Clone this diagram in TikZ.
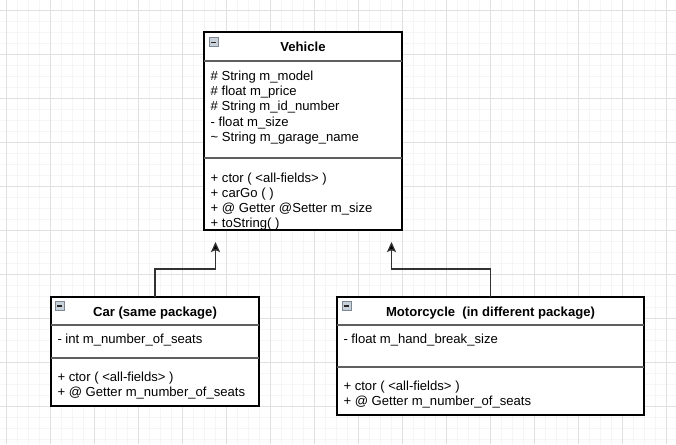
\documentclass[tikz,border=0pt]{standalone}
\usepackage{fontspec}
\setmainfont{Liberation Sans}
\usetikzlibrary{arrows.meta}
\definecolor{minorgrid}{RGB}{245,245,245}
\definecolor{majorgrid}{RGB}{224,224,224}
\definecolor{sepgray}{RGB}{95,95,95}
\definecolor{iconfill}{RGB}{200,208,218}
\definecolor{iconedge}{RGB}{125,135,148}
\definecolor{conngray}{RGB}{50,50,50}
\begin{document}
\begin{tikzpicture}[x=1pt,y=-1pt,
 font=\fontsize{13.1}{15}\selectfont,
 classbox/.style={draw=black, line width=1.15pt, fill=white, rectangle, inner sep=0pt, outer sep=0pt, anchor=north west},
 sep/.style={draw=sepgray, line width=1.2pt},
 txt/.style={anchor=base west, inner sep=0pt},
 ttl/.style={anchor=base, inner sep=0pt, font=\fontsize{13.1}{15}\selectfont\bfseries},
 icon/.style={draw=iconedge, fill=iconfill, minimum size=9pt, inner sep=0pt, anchor=north west, rectangle, line width=0.8pt},
 minus/.style={draw=black!85, line width=1.2pt},
 conn/.style={draw=conngray, line width=1.2pt, -{Stealth[length=10pt,width=9pt,inset=1.8pt,fill=black]}}
]
\useasboundingbox (0,0) rectangle (676,444);
\fill[white] (0,0) rectangle (676,444);
\draw[minorgrid, line width=0.7pt] foreach \x in {6,17,...,676} {(\x,0) -- (\x,444)};
\draw[minorgrid, line width=0.7pt] foreach \y in {10,21,...,444} {(0,\y) -- (676,\y)};
\draw[majorgrid, line width=0.8pt] foreach \x in {6,50,...,676} {(\x,0) -- (\x,444)};
\draw[majorgrid, line width=0.8pt] foreach \y in {10,54,...,444} {(0,\y) -- (676,\y)};

% Vehicle
\node[classbox, minimum width=198pt, minimum height=198pt] (veh) at (204,32) {};
\draw[sep] (veh.west |- 0,61) -- (veh.east |- 0,61);
\draw[sep] (veh.west |- 0,158) -- (veh.east |- 0,158);
\node[icon] (vicon) at (209,37.5) {};
\draw[minus] ([xshift=-2.5pt]vicon.center) -- ([xshift=2.5pt]vicon.center);
\node[ttl] (vt) at (303,52) {Vehicle};
\node[txt] (va1) at (210.5,80) {\# String m\_model};
\node[txt] (va2) at (210.5,95.4) {\# float m\_price};
\node[txt] (va3) at (210.5,110.8) {\# String m\_id\_number};
\node[txt] (va4) at (210.5,126.2) {- float m\_size};
\node[txt] (va5) at (210.5,141.6) {\textasciitilde{} String m\_garage\_name};
\node[txt] (vm1) at (210.5,182.3) {+ ctor ( <all-fields> )};
\node[txt] (vm2) at (210.5,197.4) {+ carGo ( )};
\node[txt] (vm3) at (210.5,212.5) {+ @ Getter @Setter m\_size};
\node[txt] (vm4) at (210.5,227.6) {+ toString( )};

% Car
\node[classbox, minimum width=208pt, minimum height=109pt] (car) at (51,297) {};
\draw[sep] (car.west |- 0,325) -- (car.east |- 0,325);
\draw[sep] (car.west |- 0,358) -- (car.east |- 0,358);
\node[icon] (cicon) at (55,301) {};
\draw[minus] ([xshift=-2.5pt]cicon.center) -- ([xshift=2.5pt]cicon.center);
\node[ttl] (ct) at (155,316) {Car (same package)};
\node[txt] (ca1) at (57.3,343.3) {- int m\_number\_of\_seats};
\node[txt] (cm1) at (57.3,381.7) {+ ctor ( <all-fields> )};
\node[txt] (cm2) at (57.3,396.7) {+ @ Getter m\_number\_of\_seats};

% Motorcycle
\node[classbox, minimum width=307pt, minimum height=118pt] (moto) at (337,297) {};
\draw[sep] (moto.west |- 0,325) -- (moto.east |- 0,325);
\draw[sep] (moto.west |- 0,367) -- (moto.east |- 0,367);
\node[icon] (micon) at (341.5,301) {};
\draw[minus] ([xshift=-2.5pt]micon.center) -- ([xshift=2.5pt]micon.center);
\node[ttl] (mt) at (490.5,316) {Motorcycle\ \ (in different package)};
\node[txt] (ma1) at (343.3,343.3) {- float m\_hand\_break\_size};
\node[txt] (mm1) at (343.3,390.7) {+ ctor ( <all-fields> )};
\node[txt] (mm2) at (343.3,405.7) {+ @ Getter m\_number\_of\_seats};

% connectors
\coordinate (tip1) at (215.5,242);
\coordinate (tip2) at (391.5,242);
\draw[conn] (car.north) -- ++(0,-28) -| (tip1);
\draw[conn] (moto.north) -- ++(0,-28) -| (tip2);
\end{tikzpicture}
\end{document}
